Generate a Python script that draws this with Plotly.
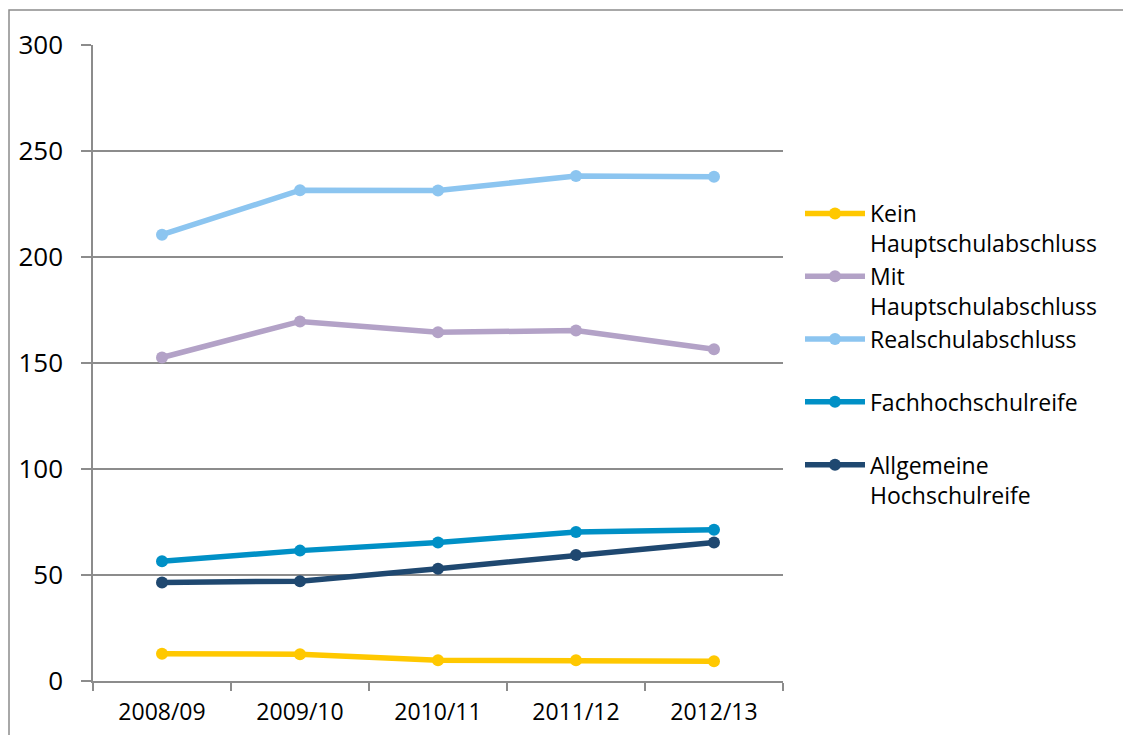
import plotly.graph_objects as go

years = ["2008/09", "2009/10", "2010/11", "2011/12", "2012/13"]
series_names = [
    "Kein<br>Hauptschulabschluss",
    "Mit<br>Hauptschulabschluss",
    "Realschulabschluss<br>&nbsp;",
    "Fachhochschulreife<br>&nbsp;",
    "Allgemeine<br>Hochschulreife",
]
kein = [12.9, 12.6, 9.8, 9.8, 9.3]
mit = [152.6, 169.6, 164.5, 165.3, 156.5]
real = [210.5, 231.5, 231.4, 238.2, 237.9]
fach = [56.5, 61.5, 65.3, 70.3, 71.3]
allg = [46.5, 47.1, 53.0, 59.4, 65.3]
colors = ["#FFC800", "#B3A2C7", "#8CC5F0", "#0090C6", "#1F4870"]
values = [kein, mit, real, fach, allg]

OFF = 8  # default page body margin
W, H = 1131 - OFF, 735 - OFF
L, R, T, B = 93 - OFF, 783 - OFF, 45 - OFF, 681 - OFF

fig = go.Figure()
for name, vals, c in zip(series_names, values, colors):
    fig.add_trace(go.Scatter(
        x=years, y=vals, name=name, mode="lines+markers",
        line=dict(color=c, width=5.5),
        marker=dict(color=c, size=12),
    ))

grid = "#8C8C8C"
fig.update_layout(
    width=W, height=H,
    margin=dict(l=L, r=W - R, t=T, b=H - B, pad=0, autoexpand=False),
    paper_bgcolor="white", plot_bgcolor="white",
    font=dict(family="Open Sans, sans-serif", color="black"),
    showlegend=True,
    legend=dict(
        xref="container", yref="container",
        x=(800 - OFF) / W, xanchor="left",
        y=(H - (192 - OFF)) / H, yanchor="top",
        font=dict(size=23, color="black"),
        valign="top", itemwidth=60, tracegroupgap=0,
        bgcolor="rgba(0,0,0,0)",
    ),
    xaxis=dict(
        type="category", showgrid=False, showline=True, linecolor=grid, linewidth=1.5,
        ticks="outside", tickson="boundaries", ticklen=8, tickcolor=grid, tickwidth=1.5,
        tickfont=dict(size=23), ticklabelstandoff=10, zeroline=False,
        range=[-0.5, 4.5], automargin=False,
    ),
    yaxis=dict(
        range=[0, 300], dtick=50, showgrid=True, gridcolor=grid, gridwidth=1.5,
        showline=True, linecolor=grid, linewidth=1.5, zeroline=False,
        ticks="outside", ticklen=10, tickcolor=grid, tickwidth=1.5,
        tickfont=dict(size=26), ticklabelstandoff=13, automargin=False,
    ),
)

# outer chart border
fig.add_shape(
    type="rect", xref="paper", yref="paper",
    x0=(9 - OFF - L) / (R - L), x1=(1129 - OFF - L) / (R - L),
    y0=(B - 745) / (B - T), y1=(B - (10 - OFF)) / (B - T),
    line=dict(color="#8C8C8C", width=1.5), fillcolor="rgba(0,0,0,0)", layer="below",
)

fig.write_html("out.html")
